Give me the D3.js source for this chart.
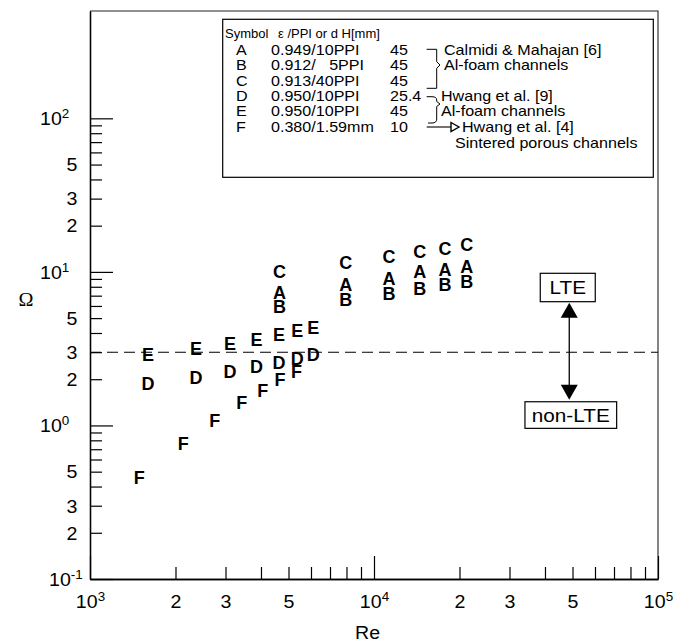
<!DOCTYPE html>
<html>
<head>
<meta charset="utf-8">
<script src="https://cdn.jsdelivr.net/npm/d3@7"></script>
<style>
body{margin:0;background:#fff;}
text{font-family:"Liberation Sans",Arial,Helvetica,sans-serif;fill:#000;white-space:pre;}
</style>
</head>
<body>
<svg id="chart" width="691" height="642"></svg>
<script>
// values
const reCAB  = [4650, 7950, 11300, 14500, 17800, 21200];
const omegaC = [10.05, 11.5, 12.5, 13.6, 14.3, 15.0];
const omegaA = [7.33, 8.23, 9.0, 10.05, 10.4, 10.8];
const omegaB = [5.94, 6.57, 7.27, 7.83, 8.23, 8.64];

const reDE   = [1600, 2360, 3110, 3860, 4630, 5370, 6110];
const omegaE = [2.88, 3.15, 3.40, 3.61, 3.89, 4.15, 4.34];
const omegaD = [1.88, 2.06, 2.24, 2.42, 2.57, 2.74, 2.88];

const reF    = [1490, 2130, 2750, 3420, 4060, 4670, 5340];
const omegaF = [0.458, 0.766, 1.07, 1.40, 1.69, 2.00, 2.26];

const omegaLimit = 3;

const xMajor = [1e3, 1e4, 1e5];
const xMinor = [2e3,3e3,4e3,5e3,6e3,7e3,8e3,9e3, 2e4,3e4,4e4,5e4,6e4,7e4,8e4,9e4];
const yMajor = [0.1, 1, 10, 100];
const yMinor = [0.2,0.3,0.4,0.5,0.6,0.7,0.8,0.9, 2,3,4,5,6,7,8,9, 20,30,40,50,60,70,80,90];
const labelledDigits = [2, 3, 5];

const legSymbols = ["A", "B", "C", "D", "E", "F"];
const legParams  = ["0.949/10PPI", "0.912/   5PPI", "0.913/40PPI", "0.950/10PPI", "0.950/10PPI", "0.380/1.59mm"];
const legHeights = ["45", "45", "45", "25.4", "45", "10"];

const SX = 1.12;   // the source glyphs look a bit wide
const SXL = 1.15;  // legend rows are wider still

const svg = d3.select("#chart");
const mLeft = 90, mTop = 11, mRight = 658, mBottom = 579;

const x = d3.scaleLog().domain([1e3, 1e5]).range([mLeft, mRight]);
const y = d3.scaleLog().domain([0.1, 500]).range([mBottom, mTop]);

function addText(parent, px, py, str, size, sx) {
    return parent.append("text")
        .attr("transform", `translate(${px},${py}) scale(${sx || SX},1)`)
        .attr("font-size", size)
        .text(str);
}
const lead = v => Math.round(v / Math.pow(10, Math.floor(Math.log10(v) + 1e-9)));
const expo = v => Math.round(Math.log10(v));

// frame top + right
svg.append("path")
    .attr("d", `M${mLeft},${mTop}H${mRight}V${mBottom}`)
    .attr("fill", "none").attr("stroke", "#222").attr("stroke-width", 1.1);

// x axis
const gx = svg.append("g").attr("transform", `translate(0,${mBottom})`);
gx.append("g").call(d3.axisBottom(x).tickValues(xMinor).tickSize(-12).tickSizeOuter(0)
    .tickFormat(v => labelledDigits.includes(lead(v)) ? lead(v) : ""));
gx.append("g").call(d3.axisBottom(x).tickValues(xMajor).tickSize(-23).tickSizeOuter(0)
    .tickFormat(v => "10"));
gx.selectAll("g").attr("font-size", null).attr("font-family", null);
gx.selectAll(".tick text")
    .attr("y", 0).attr("dy", null)
    .attr("transform", `translate(0,29) scale(${SX},1)`)
    .attr("font-size", 17.5);
gx.selectAll(".tick").filter(v => xMajor.includes(v)).select("text")
    .append("tspan").attr("dy", -7).attr("font-size", 12).text(v => expo(v));

// y axis
const gy = svg.append("g").attr("transform", `translate(${mLeft},0)`);
gy.append("g").call(d3.axisLeft(y).tickValues(yMinor).tickSize(-12).tickSizeOuter(0)
    .tickFormat(v => labelledDigits.includes(lead(v)) ? lead(v) : ""));
gy.append("g").call(d3.axisLeft(y).tickValues(yMajor).tickSize(-23).tickSizeOuter(0)
    .tickFormat(v => "10"));
gy.selectAll("g").attr("font-size", null).attr("font-family", null);
gy.selectAll(".tick text")
    .attr("x", 0).attr("dy", "0.36em")
    .attr("transform", `translate(-12.5,0) scale(${SX},1)`)
    .attr("font-size", 17.5);
gy.selectAll(".tick").filter(v => yMajor.includes(v)).select("text")
    .attr("text-anchor", "start")
    .attr("transform", v => `translate(${v < 1 ? -41 : -50},0) scale(${SX},1)`)
    .append("tspan").attr("dy", -7).attr("font-size", 12).text(v => expo(v));
svg.selectAll(".domain").attr("stroke", "#000").attr("stroke-width", 1.3);
svg.selectAll(".tick line").attr("stroke", "#000").attr("stroke-width", 1.2);

// axis titles
addText(svg, 26, 306, "\u03A9", 18).attr("text-anchor", "middle")
    .style("font-family", "'Liberation Serif','Times New Roman',serif");
addText(svg, 367.5, 639, "Re", 17.5).attr("text-anchor", "middle");

// LTE limit
svg.append("line")
    .attr("x1", mLeft).attr("x2", mRight)
    .attr("y1", y(omegaLimit)).attr("y2", y(omegaLimit))
    .attr("stroke", "#000").attr("stroke-width", 1.1)
    .attr("stroke-dasharray", "11,6");

// letter markers
const series = [
    {sym: "C", re: reCAB, om: omegaC},
    {sym: "A", re: reCAB, om: omegaA},
    {sym: "B", re: reCAB, om: omegaB},
    {sym: "E", re: reDE, om: omegaE},
    {sym: "D", re: reDE, om: omegaD},
    {sym: "F", re: reF, om: omegaF}
];
const gm = svg.append("g");
series.forEach(s => {
    s.re.forEach((r, i) => {
        addText(gm, x(r), y(s.om[i]), s.sym, 18, 1)
            .attr("text-anchor", "middle").attr("dy", "0.36em")
            .attr("font-weight", "bold");
    });
});

// legend
const lg = svg.append("g");
lg.append("rect").attr("x", 222.7).attr("y", 19.3).attr("width", 430.6).attr("height", 158)
    .attr("fill", "#fff").attr("stroke", "#000").attr("stroke-width", 1.2);
const rowY = i => 50 + i * 15.35 + 5;
addText(lg, 225, 37.5, "Symbol", 13, 1);
addText(lg, 278, 37.5, "\u03B5 /PPI or d H[mm]", 13, 1);
legSymbols.forEach((s, i) => {
    addText(lg, 236, rowY(i), s, 14, SXL);
    addText(lg, 271, rowY(i), legParams[i], 14, SXL);
    addText(lg, 390, rowY(i), legHeights[i], 14, SXL);
});
addText(lg, 444, rowY(0), "Calmidi & Mahajan [6]", 14, SXL);
addText(lg, 444, rowY(1), "Al-foam channels", 14, SXL);
addText(lg, 441, rowY(3), "Hwang et al. [9]", 14, SXL);
addText(lg, 441, rowY(4), "Al-foam channels", 14, SXL);
addText(lg, 462, rowY(5), "Hwang et al. [4]", 14, SXL);
addText(lg, 455, 148, "Sintered porous channels", 14, SXL);
lg.append("path")
    .attr("d", "M426.7,49.3H436.7V61.7L440,65L436.7,68.3V88.3H426.7")
    .attr("fill", "none").attr("stroke", "#000").attr("stroke-width", 1);
lg.append("path")
    .attr("d", "M426.7,96.7H432Q436.7,96.7 436.7,100V101.5L440,104L436.7,106.5V119Q436.7,123 432,123H428")
    .attr("fill", "none").attr("stroke", "#000").attr("stroke-width", 1);
lg.append("path").attr("d", "M426.7,127H451")
    .attr("stroke", "#000").attr("stroke-width", 1.1);
lg.append("path").attr("d", "M451,122.5L459,127L451,131.5Z")
    .attr("fill", "#fff").attr("stroke", "#000").attr("stroke-width", 1.4);

// LTE / non-LTE arrow
const ax = x(4.87e4);
const yUp = y(6.3), yDown = y(1.47);
svg.append("line").attr("x1", ax).attr("x2", ax).attr("y1", yUp + 14).attr("y2", yDown - 14)
    .attr("stroke", "#000").attr("stroke-width", 1.3);
svg.append("path").attr("d", `M${ax},${yUp}l8.5,15h-17z`).attr("fill", "#000");
svg.append("path").attr("d", `M${ax},${yDown}l8.5,-15h-17z`).attr("fill", "#000");

svg.append("rect").attr("x", ax - 29).attr("y", yUp - 29.4).attr("width", 55).attr("height", 28.4)
    .attr("fill", "#fff").attr("stroke", "#000").attr("stroke-width", 1.2);
addText(svg, ax - 1.5, yUp - 8.5, "LTE", 18.5).attr("text-anchor", "middle");
svg.append("rect").attr("x", ax - 44.3).attr("y", yDown + 2).attr("width", 91.7).attr("height", 26.6)
    .attr("fill", "#fff").attr("stroke", "#000").attr("stroke-width", 1.2);
addText(svg, ax + 1.5, yDown + 22, "non-LTE", 18.5).attr("text-anchor", "middle");
</script>
</body>
</html>
